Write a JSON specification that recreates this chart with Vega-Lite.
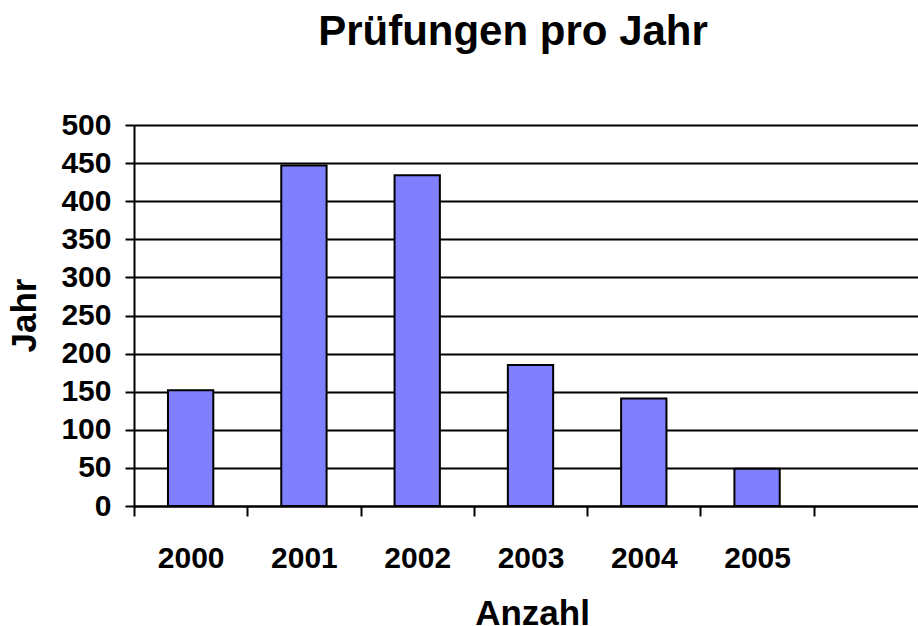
{
  "$schema": "https://vega.github.io/schema/vega-lite/v6.json",
  "autosize": "none",
  "width": 784,
  "height": 381,
  "padding": {"left": 134, "top": 125, "right": 0, "bottom": 120},
  "background": "white",
  "title": {
    "text": "Prüfungen pro Jahr",
    "font": "Liberation Sans",
    "fontSize": 42,
    "fontWeight": "bold",
    "color": "black",
    "anchor": "middle",
    "frame": "group",
    "baseline": "alphabetic",
    "offset": 23,
    "dx": -13
  },
  "data": {
    "values": [
      {"Jahr": "2000", "Anzahl": 152},
      {"Jahr": "2001", "Anzahl": 447},
      {"Jahr": "2002", "Anzahl": 434},
      {"Jahr": "2003", "Anzahl": 185},
      {"Jahr": "2004", "Anzahl": 141},
      {"Jahr": "2005", "Anzahl": 49}
    ]
  },
  "mark": {"type": "bar", "fill": "#8080FF", "stroke": "black", "strokeWidth": 2, "width": {"band": 0.4}},
  "encoding": {
    "x": {
      "field": "Jahr",
      "type": "ordinal",
      "scale": {"domain": ["2000", "2001", "2002", "2003", "2004", "2005", " "], "range": [0, 793], "paddingInner": 0, "paddingOuter": 0},
      "axis": {
        "title": "Anzahl",
        "titleFont": "Liberation Sans",
        "titleFontSize": 35,
        "titleFontWeight": "bold",
        "titleColor": "black",
        "titleX": 398,
        "titleY": 118,
        "titleBaseline": "alphabetic",
        "titleAlign": "center",
        "labelAngle": 0,
        "labelFont": "Liberation Sans",
        "labelFontSize": 30,
        "labelFontWeight": "bold",
        "labelColor": "black",
        "labelBaseline": "alphabetic",
        "labelPadding": 51,
        "tickBand": "extent",
        "tickSize": 10,
        "tickWidth": 2,
        "tickColor": "black",
        "domainColor": "black",
        "domainWidth": 2,
        "grid": false
      }
    },
    "y": {
      "field": "Anzahl",
      "type": "quantitative",
      "scale": {"domain": [0, 500], "nice": false},
      "axis": {
        "title": "Jahr",
        "titleFont": "Liberation Sans",
        "titleFontSize": 35,
        "titleFontWeight": "bold",
        "titleColor": "black",
        "titleAngle": -90,
        "titleX": -99,
        "titleY": 190,
        "titleBaseline": "alphabetic",
        "titleAlign": "center",
        "values": [0, 50, 100, 150, 200, 250, 300, 350, 400, 450, 500],
        "labelFont": "Liberation Sans",
        "labelFontSize": 30,
        "labelFontWeight": "bold",
        "labelColor": "black",
        "labelPadding": 14,
        "tickSize": 9,
        "tickWidth": 2,
        "tickColor": "black",
        "domainColor": "black",
        "domainWidth": 2,
        "grid": true,
        "gridColor": "black",
        "gridWidth": 2,
        "gridOpacity": 1
      }
    }
  },
  "config": {"view": {"stroke": null}}
}
